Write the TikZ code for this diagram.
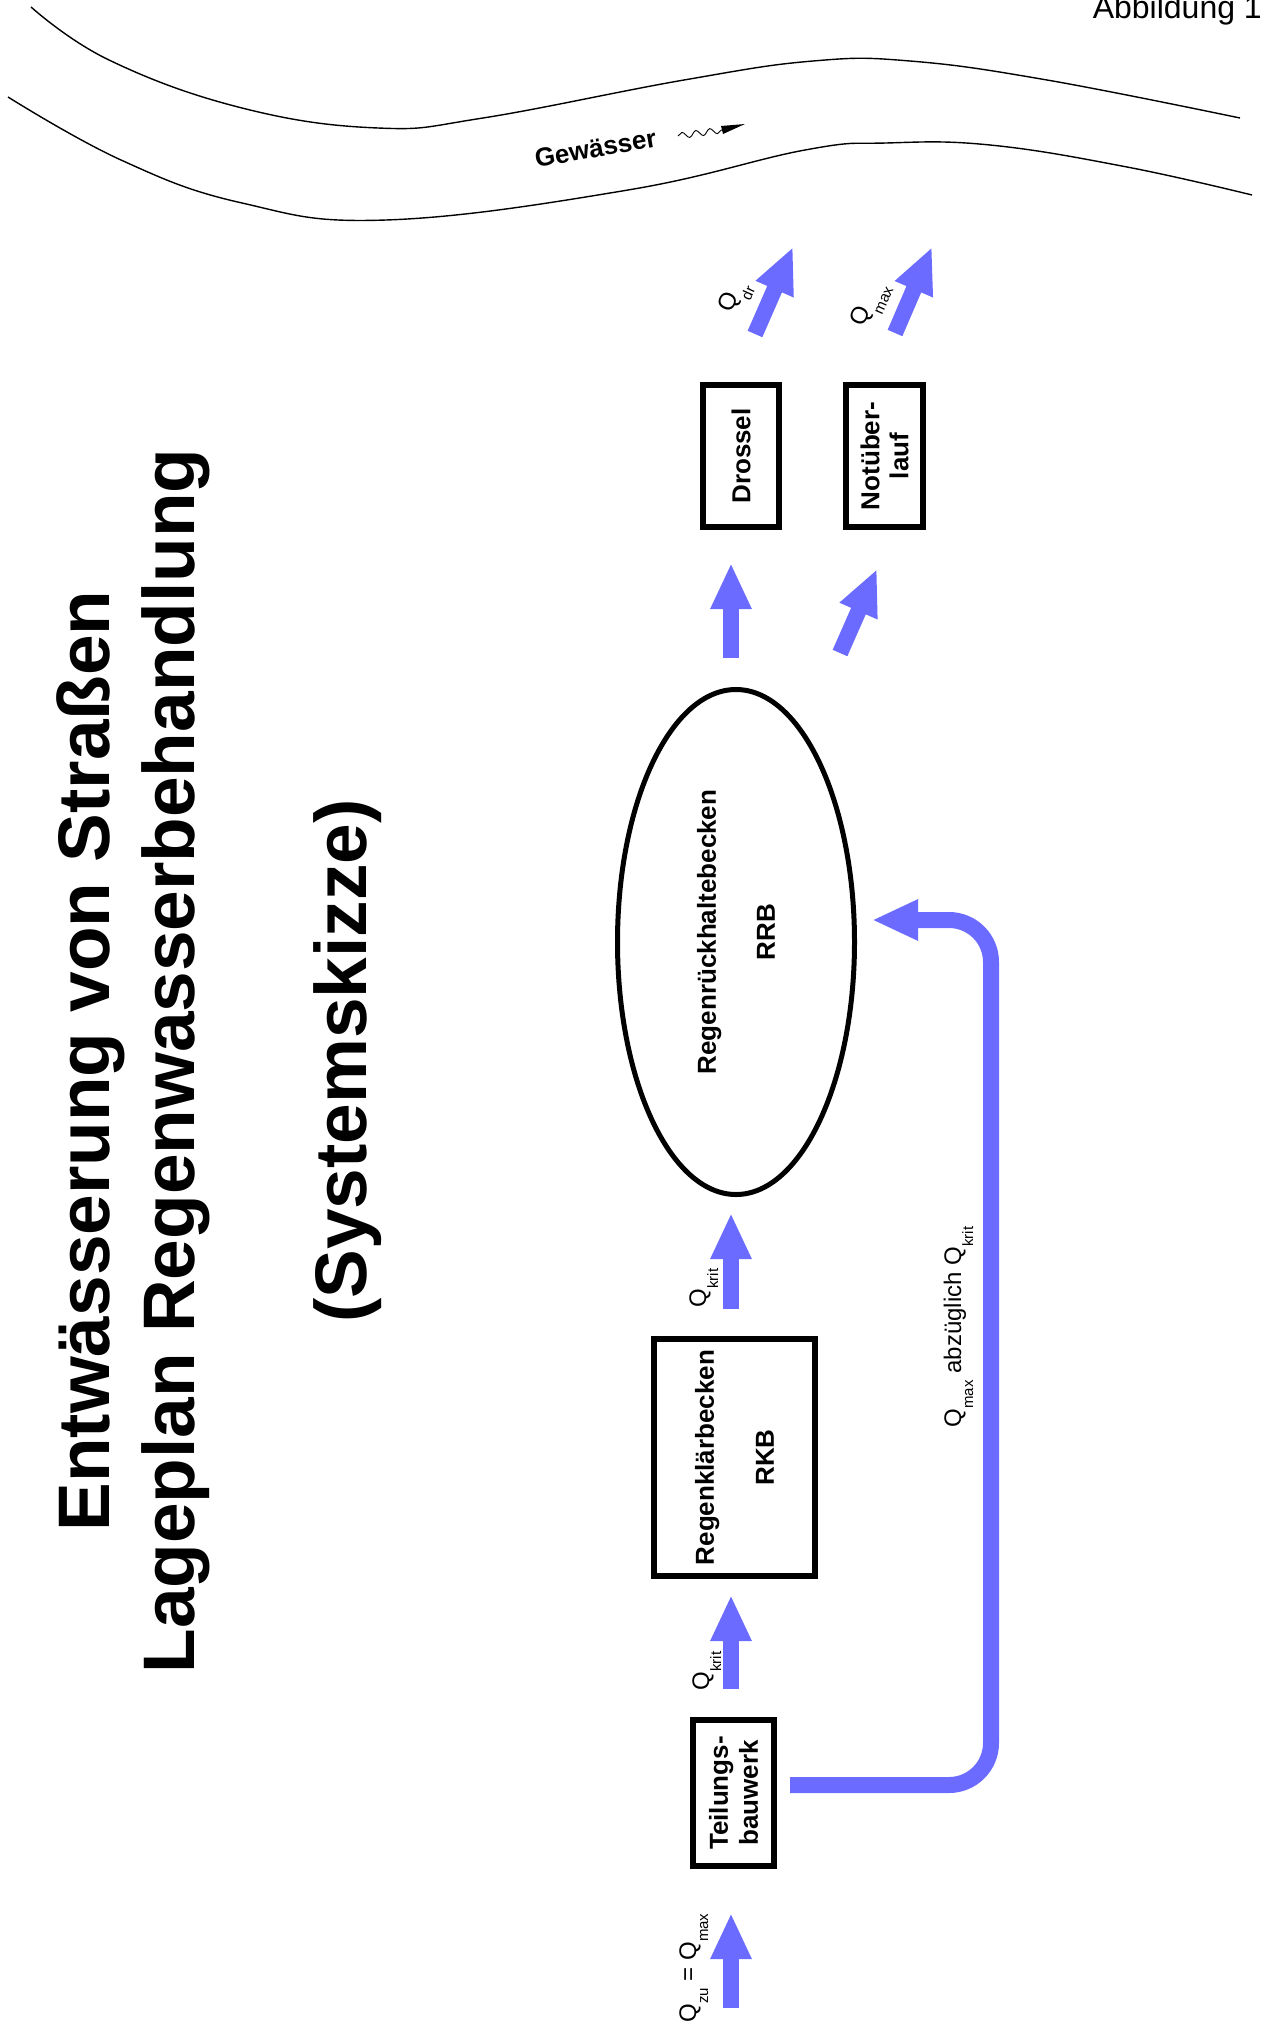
\documentclass[tikz,border=0pt]{standalone}
\usepackage{fontspec}
\usepackage{graphicx}
\setmainfont{Liberation Sans}
\usetikzlibrary{arrows.meta,shapes.geometric,decorations.pathmorphing}
\definecolor{flowblue}{RGB}{107,107,255}
\newcommand\qsub[1]{\raisebox{-12pt}{\fontsize{15}{15}\selectfont #1}}
\newcommand\twoline[3]{\vbox{\baselineskip=#3\lineskip=0pt\lineskiplimit=-100pt\halign{\hfil##\hfil\cr#1\cr#2\cr}}}
\tikzset{
  boxnode/.style={draw, line width=6pt, rectangle, inner sep=0pt, font=\fontsize{26}{30}\selectfont\bfseries},
  flow/.style={draw=flowblue, line width=16pt, -{Triangle[length=46pt,width=38pt]}},
  qlabel/.style={font=\fontsize{24}{24}\selectfont, inner sep=0pt},
  titletext/.style={font=\fontsize{73}{80}\selectfont\bfseries, inner sep=0pt, rotate=90, anchor=base},
  river/.style={line width=1.4pt}
}
\begin{document}
\begin{tikzpicture}[x=1pt,y=-1pt]
\useasboundingbox (0,0) rectangle (1264,2029);
\fill[white] (0,0) rectangle (1264,2029);
\clip (0,0) rectangle (1264,2029);

% river
\draw[river] plot[smooth, tension=0.7] coordinates {(31,7) (109,60) (242,108) (378,128) (483,118) (684,80) (813,61) (910,61) (1047,80) (1240,118)};
\draw[river] plot[smooth, tension=0.7] coordinates {(8,97) (121,160) (242,203) (386,220) (628,190) (805,150) (886,143) (990,145) (1127,167) (1252,195)};
\node[font=\fontsize{26}{26}\selectfont\bfseries, rotate=10, anchor=base, inner sep=0pt] (gew) at (597,157) {Gewässer};
\coordinate (sq1) at (678,136);
\coordinate (sq2) at (722,130);
\coordinate (sqT) at (745,124);
\draw[line width=0.9pt, decorate, decoration={snake, amplitude=3pt, segment length=14pt}] (sq1) -- (sq2);
\fill (721,126) -- (sqT) -- (723,134) -- cycle;

% header
\node[font=\fontsize{32}{32}\selectfont, anchor=base east, inner sep=0pt] (abb) at (1262,19) {Abbildung 1};

% titles
\node[titletext] (t1) at (109,1061) {Entwässerung von Straßen};
\node[titletext] (t2) at (194,1061) {Lageplan Regenwasserbehandlung};
\node[titletext] (t3) at (366,1061) {(Systemskizze)};

% boxes
\node[boxnode, minimum width=76pt, minimum height=142pt] (dros) at (741,456) {\rotatebox{90}{Drossel}};
\node[boxnode, minimum width=77pt, minimum height=142pt] (notl) at (884.5,456) {\rotatebox{90}{\twoline{Notüber-}{lauf}{29pt}}};
\node[draw, ellipse, line width=5pt, minimum width=237pt, minimum height=505pt, inner sep=0pt, font=\fontsize{26}{30}\selectfont\bfseries] (rrb) at (736,942) {\rotatebox{90}{\twoline{\hspace*{20pt}Regenrückhaltebecken}{\hspace*{20pt}RRB}{59pt}}};
\node[boxnode, minimum width=161pt, minimum height=237pt] (rkb) at (734.5,1457.5) {\rotatebox{90}{\twoline{Regenklärbecken}{RKB}{60pt}}};
\node[boxnode, minimum width=81pt, minimum height=146pt] (teil) at (733.5,1793) {\rotatebox{90}{\twoline{Teilungs-}{bauwerk}{30pt}}};

% arrow end points
\coordinate (zuA) at (731,2008);  \coordinate (zuB) at (731,1913);
\coordinate (k1A) at (731,1689);  \coordinate (k1B) at (731,1595);
\coordinate (k2A) at (731,1309);  \coordinate (k2B) at (731,1213);
\coordinate (drA) at (731,658);   \coordinate (drB) at (731,563);
\coordinate (noA) at (840,653);   \coordinate (noB) at (877,569);
\coordinate (qdA) at (755,334);   \coordinate (qdB) at (793,247);
\coordinate (qmA) at (895,333);   \coordinate (qmB) at (932,247);
\coordinate (byA) at (790,1785);  \coordinate (byC) at (991,920);
\coordinate (byB) at (872,920);

\draw[flow] (zuA) -- (zuB);
\draw[flow] (k1A) -- (k1B);
\draw[flow] (k2A) -- (k2B);
\draw[flow] (drA) -- (drB);
\draw[flow] (noA) -- (noB);
\draw[flow] (qdA) -- (qdB);
\draw[flow] (qmA) -- (qmB);
\draw[flow, rounded corners=42pt] (byA) -- (byA -| byC) -- (byC) -- (byB);

% labels
\node[qlabel, rotate=90, anchor=base] (lzu) at (696,1968) {Q\qsub{zu} = Q\qsub{max}};
\node[qlabel, rotate=90, anchor=base] (lk1) at (709,1671) {Q\qsub{krit}};
\node[qlabel, rotate=90, anchor=base] (lk2) at (706,1288) {Q\qsub{krit}};
\node[qlabel, rotate=90, anchor=base] (lby) at (961,1327) {Q\qsub{max} abzüglich Q\qsub{krit}};
\node[qlabel, rotate=66] (ldr) at (736,298) {Q\qsub{dr}};
\node[qlabel, rotate=66] (lmx) at (871,305) {Q\qsub{max}};
\end{tikzpicture}
\end{document}
